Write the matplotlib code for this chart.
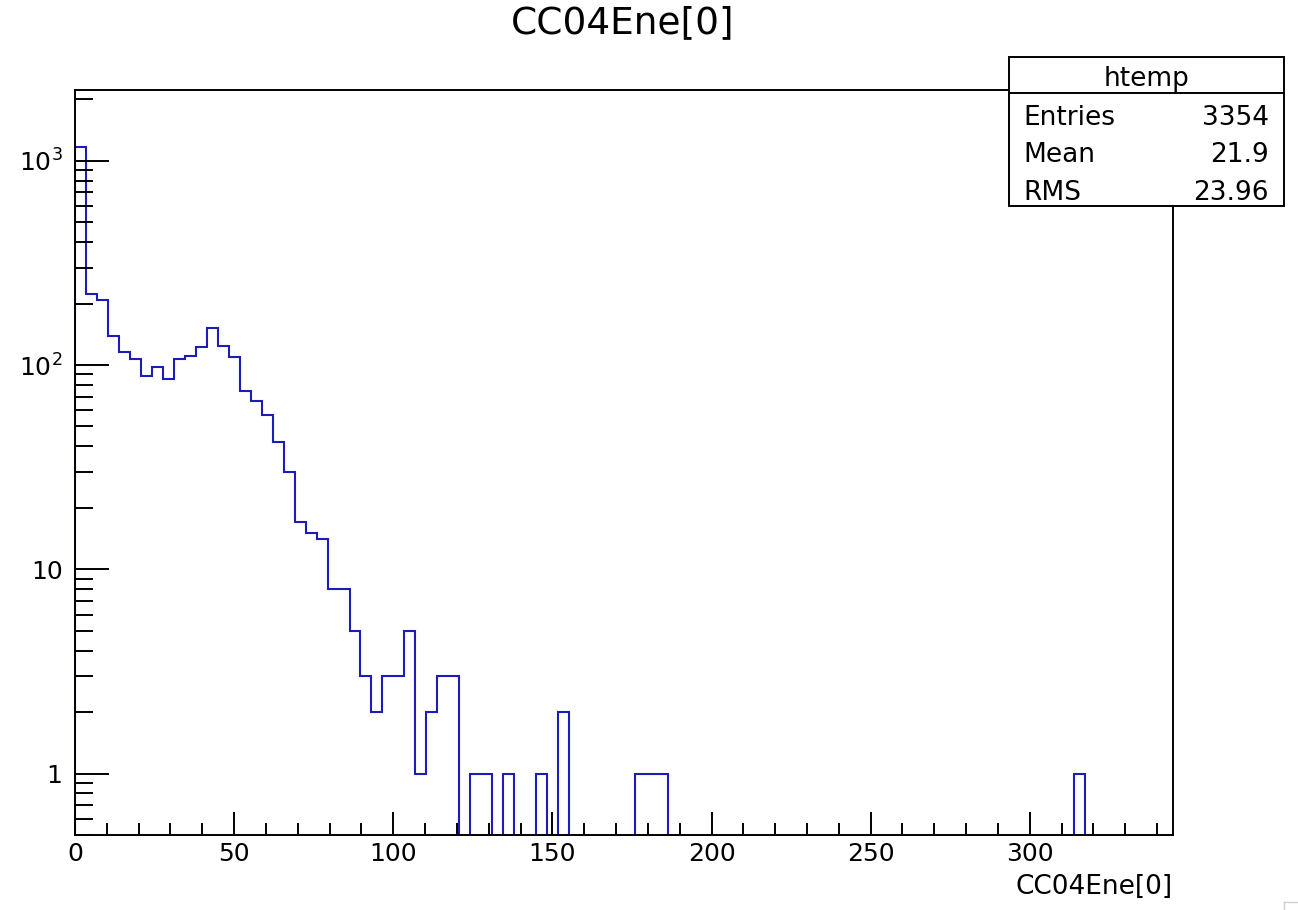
import numpy as np
import matplotlib
matplotlib.use("Agg")
import matplotlib.pyplot as plt
from matplotlib.patches import Rectangle
from matplotlib.lines import Line2D
from matplotlib.ticker import FixedLocator, FixedFormatter, MultipleLocator, LogLocator, NullFormatter

# ==============================
# data (100 bins, 0 .. 345)
# ==============================
x_min, x_max, n_bins = 0.0, 345.0, 100
bin_counts = [
    1170, 222, 207, 139, 116, 107, 88, 98, 85, 107,
    111, 122, 151, 124, 109, 75, 67, 57, 42, 30,
    17, 15, 14, 8, 8, 5, 3, 2, 3, 3,
    5, 1, 2, 3, 3, 0, 1, 1, 0, 1,
    0, 0, 1, 0, 2, 0, 0, 0, 0, 0,
    0, 1, 1, 1, 0, 0, 0, 0, 0, 0,
    0, 0, 0, 0, 0, 0, 0, 0, 0, 0,
    0, 0, 0, 0, 0, 0, 0, 0, 0, 0,
    0, 0, 0, 0, 0, 0, 0, 0, 0, 0,
    0, 1, 0, 0, 0, 0, 0, 0, 0, 0,
]
y_ticks = [1, 10, 100, 1000]
y_tick_labels = ["1", "10", "$10^{2}$", "$10^{3}$"]
x_ticks = [0, 50, 100, 150, 200, 250, 300]

title = "CC04Ene[0]"
stat_names = ["Entries", "Mean", "RMS"]
stat_values = ["3354", "21.9", "23.96"]
hist_name = "htemp"

W, H = 1298, 910
line_col = "#1c1cb8"

plt.rcParams["font.family"] = ["DejaVu Sans"]

fig = plt.figure(figsize=(W / 100, H / 100), dpi=100)
ax = fig.add_axes([75 / W, 1 - 835 / H, (1173 - 75) / W, (835 - 90) / H])

edges = np.linspace(x_min, x_max, n_bins + 1)
counts = np.array(bin_counts, dtype=float)
# empty bins drop below the log axis like ROOT does
draw_counts = np.where(counts > 0, counts, 1e-3)
ax.stairs(draw_counts, edges, baseline=1e-3, color=line_col, lw=1.5)

ax.set_yscale("log")
ax.set_xlim(x_min, x_max)
ax.set_ylim(0.5, 2220)

ax.xaxis.set_major_locator(FixedLocator(x_ticks))
ax.xaxis.set_minor_locator(MultipleLocator(10))
ax.yaxis.set_major_locator(FixedLocator(y_ticks))
ax.yaxis.set_major_formatter(FixedFormatter(y_tick_labels))
ax.yaxis.set_minor_locator(LogLocator(base=10, subs=range(2, 10), numticks=20))
ax.yaxis.set_minor_formatter(NullFormatter())

ax.tick_params(axis="both", which="both", direction="in", width=1.4,
               top=False, right=False, labelsize=18)
ax.tick_params(axis="x", which="major", length=16.5, pad=5)
ax.tick_params(axis="x", which="minor", length=8.5)
ax.tick_params(axis="y", which="major", length=24.5, pad=9)
ax.tick_params(axis="y", which="minor", length=13)
for s in ax.spines.values():
    s.set_linewidth(1.4)

# title and axis label
fig.text(623 / W, 1 - 33 / H, title, ha="center", va="baseline", fontsize=27)
fig.text(1173 / W, 1 - 894 / H, title, ha="right", va="baseline", fontsize=19)

# ==============================
# stats box
# ==============================
bx0, bx1, by0, by1 = 1009, 1284, 57, 206
box = Rectangle((bx0 / W, 1 - by1 / H), (bx1 - bx0) / W, (by1 - by0) / H,
                transform=fig.transFigure, facecolor="white", edgecolor="black",
                lw=1.4, zorder=5)
fig.add_artist(box)
fig.add_artist(Line2D([bx0 / W, bx1 / W], [1 - 93 / H, 1 - 93 / H],
                      transform=fig.transFigure, color="black", lw=1.4, zorder=6))
fig.text((bx0 + bx1) / 2 / W, 1 - 86 / H, hist_name, ha="center", va="baseline",
         fontsize=19, zorder=7)
row_base = [125, 162.5, 199.5]
for name, val, yb in zip(stat_names, stat_values, row_base):
    fig.text(1023 / W, 1 - yb / H, name, ha="left", va="baseline", fontsize=19, zorder=7)
    fig.text(1268.5 / W, 1 - yb / H, val, ha="right", va="baseline", fontsize=19, zorder=7)

# little canvas corner mark at bottom right
fig.add_artist(Line2D([1284 / W, 1298 / W], [1 - 902 / H, 1 - 902 / H],
                      transform=fig.transFigure, color="#d0d0d0", lw=1))
fig.add_artist(Line2D([1284 / W, 1284 / W], [1 - 902 / H, 0],
                      transform=fig.transFigure, color="#d0d0d0", lw=1))

fig.savefig("out.png", dpi=100, facecolor="white")
